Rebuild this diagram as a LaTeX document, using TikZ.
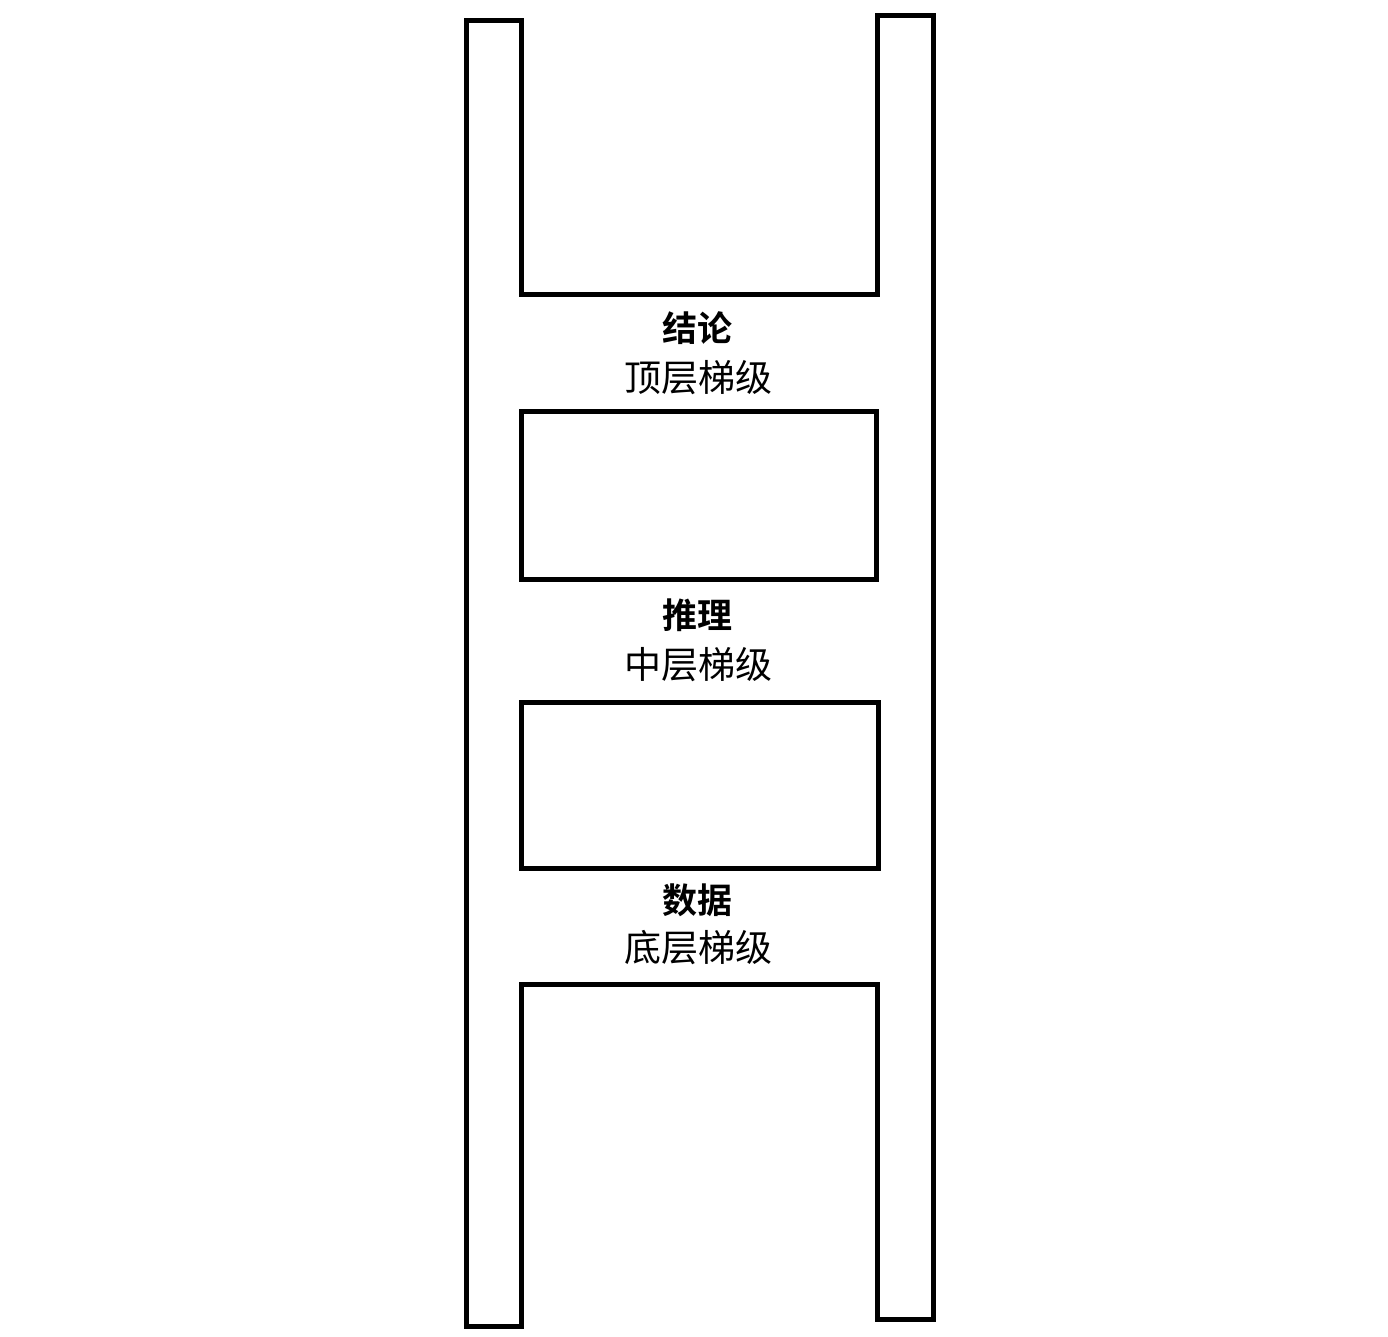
\documentclass[tikz,border=0pt]{standalone}
\usepackage{fontspec}
\usepackage{tikz}
\newfontfamily\cjkbold[BoldFont={* Bold}]{Noto Sans CJK SC}
\newfontfamily\cjktier{Noto Sans CJK SC}
\tikzset{
  rail/.style={line width=5pt, line join=miter},
  rungname/.style={font=\cjkbold\bfseries\fontsize{35}{40}\selectfont, inner sep=0.75pt},
  rungtier/.style={font=\cjktier\fontsize{37}{42}\selectfont, inner sep=0.75pt}
}
\begin{document}
\begin{tikzpicture}[x=1pt,y=1pt,yscale=-1,xscale=1]
\useasboundingbox (0,0) rectangle (1388,1337);

%Ladder outline (rails and open ends)
\draw [rail] (466,21) -- (466,1326) -- (521,1326) -- (521,984) -- (877,984) -- (877,1319) -- (933,1319) -- (933,16) -- (877,16) -- (877,295) -- (521,295) -- (521,21) -- cycle ;
%Upper rung gap
\draw [rail] (521,411) rectangle (876,579) ;
%Lower rung gap
\draw [rail] (521,702) rectangle (878,868) ;

% Text Node
\node [rungname] (top) at (697,328) {结论};
% Text Node
\node [rungtier] (toptier) at (698,378) {顶层梯级};
% Text Node
\node [rungname] (mid) at (697,615) {推理};
% Text Node
\node [rungtier] (midtier) at (698,665) {中层梯级};
% Text Node
\node [rungname] (bot) at (697,900) {数据};
% Text Node
\node [rungtier] (bottier) at (698,948) {底层梯级};

\end{tikzpicture}
\end{document}
